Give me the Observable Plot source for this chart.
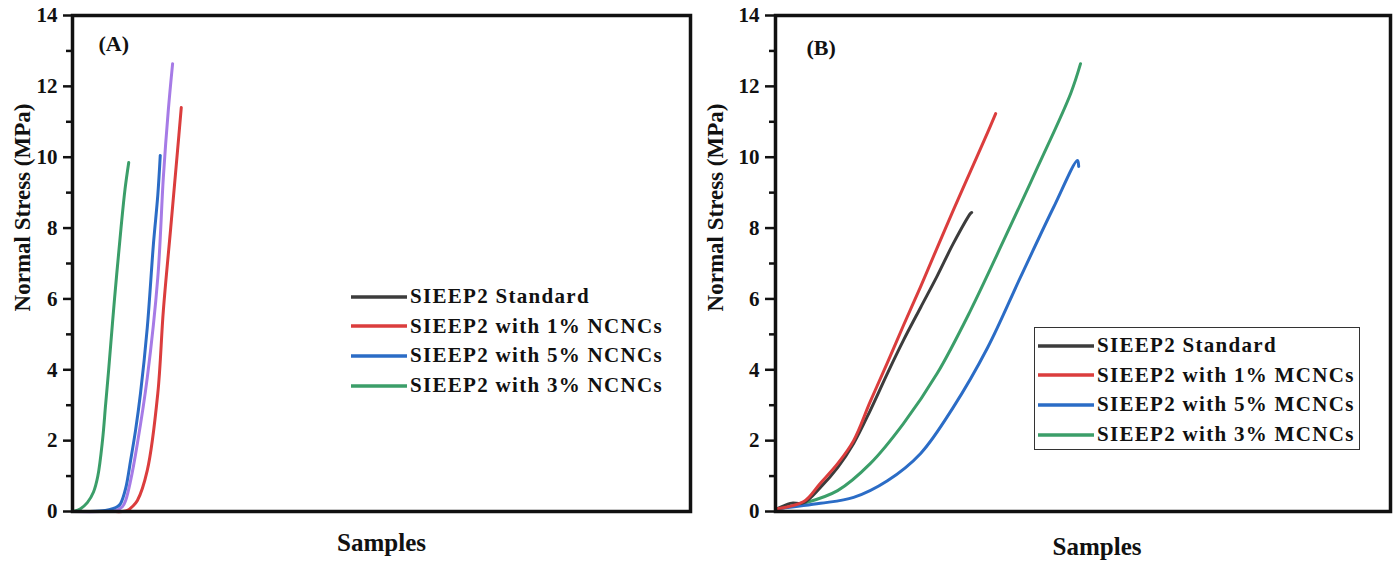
<!DOCTYPE html>
<html>
<head>
<meta charset="utf-8">
<script src="https://cdn.jsdelivr.net/npm/d3@7"></script>
<script src="https://cdn.jsdelivr.net/npm/@observablehq/plot@0.6"></script>
<style>
  html, body { margin: 0; padding: 0; background: #fff; }
  #wrap { position: relative; width: 1398px; height: 563px; overflow: hidden; background: #fff; }
  #panelA { position: absolute; left: 0; top: 0; }
  #panelB { position: absolute; left: 700px; top: 0; }
  .legend { position: absolute; font-family: "Liberation Serif", "Times New Roman", serif; font-weight: bold; font-size: 21px; letter-spacing: 1.3px; color: #111; }
  .legend .row { display: flex; align-items: center; height: 29.6px; white-space: nowrap; }
  .legend svg { margin-right: 2px; }
</style>
</head>
<body>
<div id="wrap">
  <div id="panelA"></div>
  <div id="panelB"></div>
  <div id="legA" class="legend" style="left:350px; top:282px;"></div>
  <div id="legB" class="legend" style="left:1034px; top:327px; width:326px; height:123px; border:1px solid #333; box-sizing:border-box; padding-top:3px; padding-left:2px;"></div>
</div>
<script>
// ---------- Data ----------
const seriesNamesA = ["SIEEP2 Standard", "SIEEP2 with 1% NCNCs", "SIEEP2 with 5% NCNCs", "SIEEP2 with 3% NCNCs"];
const seriesNamesB = ["SIEEP2 Standard", "SIEEP2 with 1% MCNCs", "SIEEP2 with 5% MCNCs", "SIEEP2 with 3% MCNCs"];
const seriesColors = ["#3c3c3c", "#db3d3d", "#2b6cc6", "#3b9e69"];
const extraColorA = "#a67be6";
const yTicks = [0, 2, 4, 6, 8, 10, 12, 14];
const yMinorTicks = [1, 3, 5, 7, 9, 11, 13];

// Panel A (x = sample progress, arbitrary units 0..100)
const aRedX   = [0.2, 6.1, 8.1, 8.9, 9.7, 10.5, 12.1, 13.8, 14.7, 15.9, 17.0, 17.6];
const aRedY   = [0, 0, 0, 0.03, 0.14, 0.31, 1.16, 3.33, 5.67, 8.02, 10.19, 11.40];
const aBlueX  = [0.2, 2.9, 5.3, 6.5, 7.3, 7.8, 8.6, 9.4, 10.2, 11.0, 12.1, 13.1, 13.8, 14.2];
const aBlueY  = [0, 0, 0.03, 0.08, 0.14, 0.23, 0.65, 1.44, 2.29, 3.33, 5.19, 7.56, 8.92, 10.05];
const aGreenX = [0.2, 1.3, 2.4, 3.4, 4.1, 4.85, 5.35, 5.85, 6.8, 7.85, 8.5, 9.1];
const aGreenY = [0, 0.08, 0.25, 0.55, 1.0, 2.0, 3.0, 4.0, 6.0, 8.0, 9.1, 9.85];
const aPurpleX = [0.2, 4.5, 7.0, 8.1, 8.6, 9.4, 10.5, 12.1, 13.8, 14.7, 15.5, 16.2];
const aPurpleY = [0, 0, 0.03, 0.14, 0.31, 0.87, 1.92, 3.78, 6.60, 9.43, 11.32, 12.64];

// Panel B
const bBlackX = [0.3, 2.4, 4.6, 7.3, 10.1, 12.7, 15.4, 18.2, 20.8, 23.6, 26.3, 28.9, 31.7, 31.9];
const bBlackY = [0.08, 0.23, 0.25, 0.68, 1.24, 1.92, 2.85, 3.90, 4.83, 5.76, 6.65, 7.56, 8.41, 8.44];
const bRedX   = [0.3, 4.6, 7.3, 10.1, 12.7, 15.4, 18.2, 20.8, 23.6, 26.3, 28.9, 31.7, 34.5, 35.8];
const bRedY   = [0.08, 0.28, 0.80, 1.35, 2.00, 3.10, 4.20, 5.25, 6.35, 7.45, 8.50, 9.60, 10.70, 11.23];
const bBlueX  = [0.3, 7.3, 12.7, 18.2, 23.6, 28.9, 34.5, 39.8, 45.2, 49.1, 49.3];
const bBlueY  = [0.08, 0.23, 0.40, 0.87, 1.64, 2.94, 4.63, 6.60, 8.58, 9.91, 9.74];
const bGreenX = [0.3, 4.6, 10.1, 15.4, 20.8, 26.3, 31.7, 37.1, 42.6, 48.0, 49.6];
const bGreenY = [0.08, 0.23, 0.59, 1.35, 2.48, 3.90, 5.67, 7.65, 9.71, 11.80, 12.64];

function rows(xs, ys) { return xs.map((x, i) => ({x, y: ys[i]})); }

const linesA = [
  {data: rows(aPurpleX, aPurpleY), color: extraColorA},
  {data: rows(aRedX, aRedY), color: seriesColors[1]},
  {data: rows(aBlueX, aBlueY), color: seriesColors[2]},
  {data: rows(aGreenX, aGreenY), color: seriesColors[3]}
];
const linesB = [
  {data: rows(bGreenX, bGreenY), color: seriesColors[3]},
  {data: rows(bBlueX, bBlueY), color: seriesColors[2]},
  {data: rows(bBlackX, bBlackY), color: seriesColors[0]},
  {data: rows(bRedX, bRedY), color: seriesColors[1]}
];

const font = '"Liberation Serif", "Times New Roman", serif';

function panel({width, marginLeft, marginRight, lines, tag, tagDx, tagDy, ylabDx, sampDx, sampDy, tickSize}) {
  return Plot.plot({
    width, height: 563,
    marginLeft, marginRight, marginTop: 15, marginBottom: 52,
    x: {domain: [0, 100], axis: null},
    y: {domain: [0, 14], axis: null},
    style: {fontFamily: font, fontWeight: "bold", fontSize: "21px", color: "#111", background: "transparent", overflow: "visible"},
    marks: [
      ...lines.map(l => Plot.line(l.data, {x: "x", y: "y", stroke: l.color, strokeWidth: 3, curve: "catmull-rom"})),
      Plot.axisY({ticks: yTicks, tickSize, tickPadding: 6, strokeWidth: 2.5, stroke: "#111", fill: "#111", fontSize: 21, fontWeight: "bold", label: null}),
      Plot.axisY({ticks: yMinorTicks, tickSize: 6, strokeWidth: 2.5, stroke: "#111", text: null, label: null}),
      Plot.frame({stroke: "#111", strokeWidth: 3.5}),
      Plot.text([tag], {frameAnchor: "top-left", dx: tagDx, dy: tagDy, text: d => d, fontSize: 22, fontWeight: "bold", fill: "#111", lineAnchor: "top"}),
      Plot.text(["Normal Stress (MPa)"], {frameAnchor: "left", textAnchor: "middle", rotate: -90, dx: ylabDx, dy: -56, text: d => d, fontSize: 23, fontWeight: "bold", fill: "#111", letterSpacing: 0.8}),
      Plot.text(["Samples"], {frameAnchor: "bottom", dx: sampDx, dy: sampDy, text: d => d, fontSize: 25, fontWeight: "bold", fill: "#111", lineAnchor: "middle"})
    ]
  });
}

document.getElementById("panelA").appendChild(panel({
  width: 700, marginLeft: 72, marginRight: 10, lines: linesA, tag: "(A)",
  tagDx: 26, tagDy: 20, ylabDx: -50, sampDx: 0, sampDy: 31, tickSize: 9
}));
document.getElementById("panelB").appendChild(panel({
  width: 698, marginLeft: 75, marginRight: 8, lines: linesB, tag: "(B)",
  tagDx: 31, tagDy: 24, ylabDx: -60, sampDx: 14, sampDy: 35, tickSize: 10
}));

function legend(el, names, colors) {
  names.forEach((name, i) => {
    const row = document.createElement("div");
    row.className = "row";
    row.innerHTML = `<svg width="58" height="10"><line x1="1" y1="5" x2="57" y2="5" stroke="${colors[i]}" stroke-width="3.5"/></svg><span>${name}</span>`;
    el.appendChild(row);
  });
}
legend(document.getElementById("legA"), seriesNamesA, seriesColors);
legend(document.getElementById("legB"), seriesNamesB, seriesColors);
</script>
</body>
</html>
